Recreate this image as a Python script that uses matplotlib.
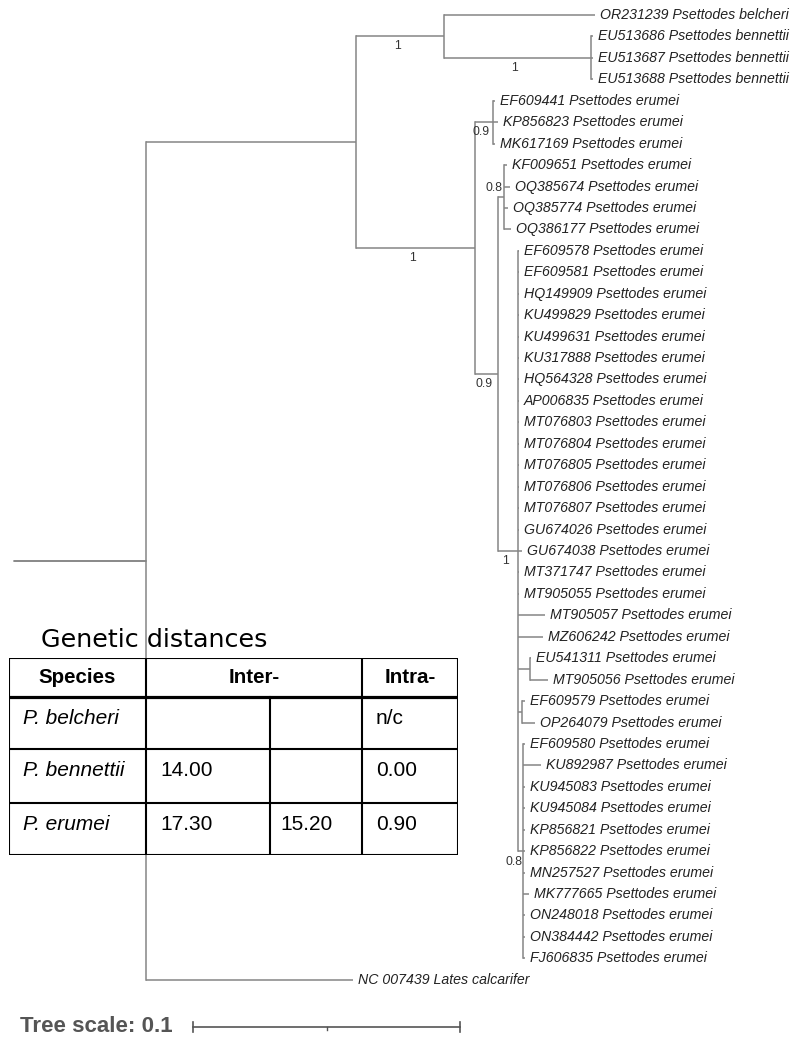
import matplotlib
matplotlib.use("Agg")
import matplotlib.pyplot as plt
from matplotlib.patches import Rectangle

W, H = 795, 1037

# ---- tree data (branch lengths in substitutions/site) ----
internal_nodes = ["A", "B", "C", "D", "E", "G", "F", "H", "I", "K", "L", "J"]
internal_parents = ["root", "A", "B", "C", "B", "E", "E", "F", "F", "I", "I", "I"]
internal_lengths = [0.0494, 0.0787, 0.0330, 0.0551, 0.0446, 0.0067,
                    0.0086, 0.0022, 0.0075, 0.0045, 0.0015, 0.0019]

support_nodes = ["C", "D", "E", "G", "H", "F", "I", "J"]
support_values = ["1", "1", "1", "0.9", "0.8", "0.9", "1", "0.8"]

leaf_labels = [
    "OR231239 Psettodes belcheri",
    "EU513686 Psettodes bennettii", "EU513687 Psettodes bennettii", "EU513688 Psettodes bennettii",
    "EF609441 Psettodes erumei", "KP856823 Psettodes erumei", "MK617169 Psettodes erumei",
    "KF009651 Psettodes erumei", "OQ385674 Psettodes erumei", "OQ385774 Psettodes erumei",
    "OQ386177 Psettodes erumei",
    "EF609578 Psettodes erumei", "EF609581 Psettodes erumei", "HQ149909 Psettodes erumei",
    "KU499829 Psettodes erumei", "KU499631 Psettodes erumei", "KU317888 Psettodes erumei",
    "HQ564328 Psettodes erumei", "AP006835 Psettodes erumei", "MT076803 Psettodes erumei",
    "MT076804 Psettodes erumei", "MT076805 Psettodes erumei", "MT076806 Psettodes erumei",
    "MT076807 Psettodes erumei", "GU674026 Psettodes erumei", "GU674038 Psettodes erumei",
    "MT371747 Psettodes erumei", "MT905055 Psettodes erumei", "MT905057 Psettodes erumei",
    "MZ606242 Psettodes erumei",
    "EU541311 Psettodes erumei", "MT905056 Psettodes erumei",
    "EF609579 Psettodes erumei", "OP264079 Psettodes erumei",
    "EF609580 Psettodes erumei", "KU892987 Psettodes erumei", "KU945083 Psettodes erumei",
    "KU945084 Psettodes erumei", "KP856821 Psettodes erumei", "KP856822 Psettodes erumei",
    "MN257527 Psettodes erumei", "MK777665 Psettodes erumei", "ON248018 Psettodes erumei",
    "ON384442 Psettodes erumei", "FJ606835 Psettodes erumei",
    "NC 007439 Lates calcarifer",
]
leaf_parents = (["C"] + ["D"] * 3 + ["G"] * 3 + ["H"] * 4 + ["I"] * 19
                + ["K"] * 2 + ["L"] * 2 + ["J"] * 11 + ["A"])
leaf_lengths = [
    0.0566,
    0.0007, 0.0007, 0.0007,
    0.0007, 0.0019, 0.0007,
    0.0011, 0.0022, 0.0015, 0.0026,
    0.0002, 0.0004, 0.0004, 0.0004, 0.0004, 0.0004, 0.0004, 0.0004, 0.0004,
    0.0004, 0.0004, 0.0004, 0.0004, 0.0004, 0.0015, 0.0004, 0.0004, 0.0101, 0.0094,
    0.0002, 0.0067,
    0.0011, 0.0049,
    0.0007, 0.0067, 0.0007, 0.0007, 0.0007, 0.0007, 0.0007, 0.0022, 0.0007, 0.0007, 0.0007,
    0.0775,
]

# genetic distance table
table_header = ["Species", "Inter-", "Intra-"]
species = ["P. belcheri", "P. bennettii", "P. erumei"]
inter_a = ["", "14.00", "17.30"]
inter_b = ["", "", "15.20"]
intra = ["n/c", "0.00", "0.90"]

scale_length = 0.1

# ---- layout ----
px_per_unit = 2670.0
root_px = 14
top_px = 15
step_px = 21.44
branch_color = "#858585"
text_color = "#222222"

fig = plt.figure(figsize=(W / 100, H / 100), dpi=100)
ax = fig.add_axes([0, 0, 1, 1])
ax.set_xlim(-root_px / px_per_unit, (W - root_px) / px_per_unit)
ax.set_ylim((H - top_px) / step_px, -top_px / step_px)
ax.axis("off")

# node x positions
xpos = {"root": 0.0}
for n, p, l in zip(internal_nodes, internal_parents, internal_lengths):
    xpos[n] = xpos[p] + l
leaf_x = [xpos[p] + l for p, l in zip(leaf_parents, leaf_lengths)]
leaf_y = list(range(len(leaf_labels)))

# node y positions (children first)
children = {n: [] for n in ["root"] + internal_nodes}
for i, p in enumerate(leaf_parents):
    children[p].append(("leaf", i))
for n, p in zip(internal_nodes, internal_parents):
    children[p].append(("node", n))

ypos = {}
def child_y(c):
    return leaf_y[c[1]] if c[0] == "leaf" else ypos[c[1]]

for n in list(reversed(internal_nodes)) + ["root"]:
    ys = [child_y(c) for c in children[n]]
    ypos[n] = (min(ys) + max(ys)) / 2

lw = 1.1
# horizontal branches
for n, p in zip(internal_nodes, internal_parents):
    ax.plot([xpos[p], xpos[n]], [ypos[n], ypos[n]], color=branch_color, lw=lw,
            solid_capstyle="butt")
for x, y, p in zip(leaf_x, leaf_y, leaf_parents):
    ax.plot([xpos[p], x], [y, y], color=branch_color, lw=lw, solid_capstyle="butt")
# vertical connectors
for n in internal_nodes:
    ys = [child_y(c) for c in children[n]]
    ax.plot([xpos[n], xpos[n]], [min(ys), max(ys)], color=branch_color, lw=lw,
            solid_capstyle="projecting")
# root stub
ax.plot([xpos["root"], xpos["A"]], [ypos["A"], ypos["A"]], color=branch_color, lw=lw)

# leaf labels
gap = 5 / px_per_unit
for x, y, lab in zip(leaf_x, leaf_y, leaf_labels):
    ax.text(x + gap, y, lab, fontsize=10.2, style="italic", family="Liberation Sans",
            color=text_color, va="center", ha="left")

# support values
off = 10 / step_px
for n, v in zip(support_nodes, support_values):
    p = internal_parents[internal_nodes.index(n)]
    blen_px = (xpos[n] - xpos[p]) * px_per_unit
    if blen_px < 12:
        ys = [child_y(c) for c in children[p]]
        above = ypos[n] == min(ys)
        ax.text(xpos[n] - 1 / px_per_unit, ypos[n] + (-0.45 if above else 0.5), v,
                fontsize=8.8, family="Liberation Sans", color="#333333",
                ha="right", va="center")
    else:
        ax.text((xpos[n] + xpos[p]) / 2 - 3 / px_per_unit, ypos[n] + off, v, fontsize=8.8,
                family="Liberation Sans", color="#333333", ha="center", va="center")

# tree scale
sb_y = (1027 - top_px) / step_px
sb_x0 = (193 - root_px) / px_per_unit
tick = 5 / step_px
ax.plot([sb_x0, sb_x0 + scale_length], [sb_y, sb_y], color="#555555", lw=1.2)
for xx in [sb_x0, sb_x0 + scale_length]:
    ax.plot([xx, xx], [sb_y - tick, sb_y + tick], color="#555555", lw=1.2)
ax.plot([sb_x0 + scale_length / 2] * 2, [sb_y, sb_y + 3 / step_px], color="#555555", lw=1.0)
fig.text(20 / W, 1 - 1026 / H, f"Tree scale: {scale_length}", fontsize=16.1,
         fontweight="bold", family="Liberation Sans", color="#555555", va="center")

# ---- table ----
tx0, ty0, tw, th = 9, 658, 449, 197
tax = fig.add_axes([tx0 / W, 1 - (ty0 + th) / H, tw / W, th / H])
tax.set_zorder(3)
tax.set_xlim(0, tw)
tax.set_ylim(th, 0)
tax.axis("off")
tax.add_patch(Rectangle((0, 0), tw, th, facecolor="white", edgecolor="none", zorder=0))

col_edges = [0, 137, 261, 353, 449]
row_edges = [0, 39, 91, 145, 197]
tlw = 1.5
for r in row_edges:
    tax.plot([0, tw], [r, r], color="black", lw=2.3 if r == row_edges[1] else tlw,
             solid_capstyle="projecting")
for i, c in enumerate(col_edges):
    top = row_edges[1] if i == 2 else 0
    tax.plot([c, c], [top, th], color="black", lw=tlw, solid_capstyle="projecting")

hdr_x = [(col_edges[0] + col_edges[1]) / 2, (col_edges[1] + col_edges[3]) / 2,
         (col_edges[3] + col_edges[4]) / 2]
for x, t in zip(hdr_x, table_header):
    tax.text(x, row_edges[1] / 2, t, fontsize=14.8, fontweight="bold",
             family="Liberation Sans", ha="center", va="center", color="black")

pads = [14, 14, 10, 14]
for i in range(len(species)):
    y = row_edges[i + 1] + 21
    cells = [species[i], inter_a[i], inter_b[i], intra[i]]
    for j, t in enumerate(cells):
        tax.text(col_edges[j] + pads[j], y, t, fontsize=15, family="Liberation Sans",
                 style="italic" if j == 0 else "normal", ha="left", va="center",
                 color="black")

fig.text(41 / W, 1 - 647 / H, "Genetic distances", fontsize=18.3, family="DejaVu Sans",
         color="black", va="baseline", ha="left")

fig.savefig("out.png", dpi=100)
